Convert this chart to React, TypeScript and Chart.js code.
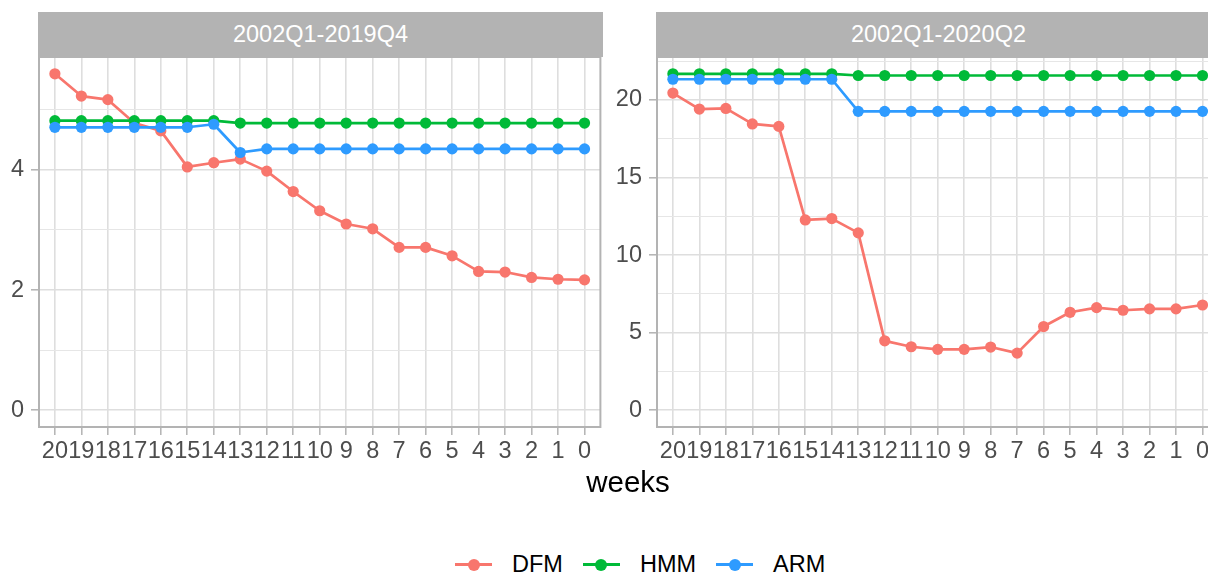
import React, { useEffect, useRef } from "react";
import { Chart, registerables } from "chart.js";

Chart.register(...registerables);

// ---------------- data ----------------
const weeks = [20, 19, 18, 17, 16, 15, 14, 13, 12, 11, 10, 9, 8, 7, 6, 5, 4, 3, 2, 1, 0];

const seriesNames = ["DFM", "HMM", "ARM"];
const seriesColors = ["#F8766D", "#00BA38", "#2E9BFF"];

const panelTitles = ["2002Q1-2019Q4", "2002Q1-2020Q2"];
const xAxisTitle = "weeks";

// Panel 1: 2002Q1-2019Q4
const dfm2019 = [5.6, 5.23, 5.17, 4.78, 4.65, 4.05, 4.12, 4.18, 3.98, 3.64, 3.32, 3.1, 3.02, 2.71, 2.71, 2.57, 2.31, 2.3, 2.21, 2.18, 2.17];
const hmm2019 = [4.82, 4.82, 4.82, 4.82, 4.82, 4.82, 4.82, 4.78, 4.78, 4.78, 4.78, 4.78, 4.78, 4.78, 4.78, 4.78, 4.78, 4.78, 4.78, 4.78, 4.78];
const arm2019 = [4.71, 4.71, 4.71, 4.71, 4.71, 4.71, 4.76, 4.29, 4.35, 4.35, 4.35, 4.35, 4.35, 4.35, 4.35, 4.35, 4.35, 4.35, 4.35, 4.35, 4.35];

// Panel 2: 2002Q1-2020Q2
const dfm2020 = [20.44, 19.41, 19.45, 18.45, 18.29, 12.26, 12.35, 11.43, 4.47, 4.09, 3.92, 3.92, 4.07, 3.68, 5.39, 6.31, 6.61, 6.44, 6.53, 6.53, 6.78];
const hmm2020 = [21.68, 21.68, 21.68, 21.68, 21.68, 21.68, 21.68, 21.57, 21.57, 21.57, 21.57, 21.57, 21.57, 21.57, 21.57, 21.57, 21.57, 21.57, 21.57, 21.57, 21.57];
const arm2020 = [21.33, 21.33, 21.33, 21.33, 21.33, 21.33, 21.33, 19.26, 19.26, 19.26, 19.26, 19.26, 19.26, 19.26, 19.26, 19.26, 19.26, 19.26, 19.26, 19.26, 19.26];

// y-axis break steps (major labelled, minor grid only)
const yMajor2019 = 2;
const yMinor2019 = 1;
const yMajor2020 = 5;
const yMinor2020 = 2.5;

// ---------------- helpers ----------------
const FONT = "'Liberation Sans', Arial, Helvetica, sans-serif";
const isMultiple = (v: number, step: number) => Math.abs(v / step - Math.round(v / step)) < 1e-6;

const regularTicks = (s: any, step: number) => {
  const out: { value: number }[] = [];
  const start = Math.ceil(s.min / step - 1e-9);
  const end = Math.floor(s.max / step + 1e-9);
  for (let i = start; i <= end; i++) out.push({ value: Math.round(i * step * 1000) / 1000 });
  if (s.options.reverse) out.reverse();
  s.ticks = out;
};

type PanelProps = {
  series: number[][];
  major: number;
  minor: number;
  left: number;
  top: number;
  width: number;
  height: number;
  yAxisWidth: number;
  padTop: number;
  padRight: number;
  xAxisHeight: number;
};

const panelBorder = {
  id: "panelBorder",
  beforeDatasetsDraw(chart: any) {
    const { ctx, chartArea } = chart;
    ctx.save();
    ctx.strokeStyle = "#B3B3B3";
    ctx.lineWidth = 2;
    ctx.strokeRect(chartArea.left, chartArea.top, chartArea.right - chartArea.left, chartArea.bottom - chartArea.top);
    ctx.restore();
  },
};

function Panel(props: PanelProps) {
  const ref = useRef<HTMLCanvasElement>(null);
  useEffect(() => {
    const { series, major, minor } = props;
    const all = series.flat().concat([0]);
    const hi = Math.max(...all);
    const lo = Math.min(...all);
    const span = hi - lo;
    const yMin = lo - 0.05 * span;
    const yMax = hi + 0.05 * span;
    const xMin = Math.min(...weeks) - 0.6;
    const xMax = Math.max(...weeks) + 0.6;

    const toPts = (vals: number[]) => weeks.map((w, i) => ({ x: w, y: vals[i] }));
    const lineSets = series.map((vals, k) => ({
      label: seriesNames[k] + " line",
      data: toPts(vals),
      borderColor: seriesColors[k],
      backgroundColor: seriesColors[k],
      borderWidth: 2.7,
      borderJoinStyle: "round",
      pointRadius: 0,
      pointHoverRadius: 0,
      fill: false,
      tension: 0,
    }));
    const pointSets = series.map((vals, k) => ({
      label: seriesNames[k],
      data: toPts(vals),
      showLine: false,
      borderColor: seriesColors[k],
      backgroundColor: seriesColors[k],
      pointBackgroundColor: seriesColors[k],
      pointBorderWidth: 0,
      pointRadius: 5.6,
      pointHoverRadius: 5.6,
    }));
    // first dataset is drawn on top in Chart.js
    const datasets = [...pointSets.slice().reverse(), ...lineSets.slice().reverse()];

    const zeroPad = (s: any) => {
      s.paddingLeft = 0;
      s.paddingRight = 0;
      s.paddingTop = 0;
      s.paddingBottom = 0;
    };

    const chart = new Chart(ref.current as HTMLCanvasElement, {
      type: "line",
      data: { datasets: datasets as any },
      plugins: [panelBorder],
      options: {
        animation: false,
        responsive: false,
        events: [],
        layout: { padding: { top: props.padTop, right: props.padRight, left: 0, bottom: 0 } },
        plugins: { legend: { display: false }, tooltip: { enabled: false } },
        scales: {
          x: {
            type: "linear",
            reverse: true,
            min: xMin,
            max: xMax,
            afterBuildTicks: (s: any) => regularTicks(s, 1),
            afterFit: (s: any) => {
              s.height = props.xAxisHeight;
              zeroPad(s);
            },
            ticks: {
              stepSize: 1,
              autoSkip: false,
              maxRotation: 0,
              minRotation: 0,
              color: "#4D4D4D",
              padding: 2,
              font: { family: FONT, size: 23.5 },
              callback: (v: any) => String(v),
            },
            grid: {
              color: "#DEDEDE",
              lineWidth: 1.6,
              tickColor: "#B3B3B3",
              tickLength: 8,
              tickWidth: 1.5,
              drawTicks: true,
            },
            border: { display: false },
          },
          y: {
            type: "linear",
            min: yMin,
            max: yMax,
            afterBuildTicks: (s: any) => regularTicks(s, minor),
            afterFit: (s: any) => {
              s.width = props.yAxisWidth;
              zeroPad(s);
            },
            ticks: {
              stepSize: minor,
              autoSkip: false,
              color: "#4D4D4D",
              padding: 7,
              font: { family: FONT, size: 23.5 },
              callback: (v: any) => (isMultiple(v, major) ? String(Math.round(v * 100) / 100) : ""),
            },
            grid: {
              color: (c: any) => (c.tick && isMultiple(c.tick.value, major) ? "#DEDEDE" : "#E6E6E6"),
              lineWidth: (c: any) => (c.tick && isMultiple(c.tick.value, major) ? 1.6 : 1.1),
              tickColor: (c: any) => (c.tick && isMultiple(c.tick.value, major) ? "#B3B3B3" : "rgba(0,0,0,0)"),
              tickLength: 8,
              tickWidth: 1.5,
              drawTicks: true,
            },
            border: { display: false },
          },
        },
      } as any,
    });
    return () => chart.destroy();
  }, []);

  return (
    <canvas
      ref={ref}
      width={props.width}
      height={props.height}
      style={{ position: "absolute", left: props.left, top: props.top, width: props.width, height: props.height }}
    />
  );
}

function Strip({ left, text }: { left: number; text: string }) {
  return (
    <div
      style={{
        position: "absolute",
        left,
        top: 12,
        width: 565,
        height: 45,
        background: "#B3B3B3",
        color: "#FFFFFF",
        fontFamily: FONT,
        fontSize: 23.5,
        lineHeight: 1,
        display: "flex",
        alignItems: "center",
        justifyContent: "center",
      }}
    >
      {text}
    </div>
  );
}

function LegendKey({ color }: { color: string }) {
  return (
    <div style={{ position: "relative", width: 37, height: 14, flex: "none" }}>
      <div style={{ position: "absolute", left: 0, top: 5.6, width: 37, height: 2.8, background: color }} />
      <div
        style={{
          position: "absolute",
          left: 12.5,
          top: 1,
          width: 12,
          height: 12,
          borderRadius: "50%",
          background: color,
        }}
      />
    </div>
  );
}

export default function App() {
  return (
    <div
      style={{
        position: "absolute",
        left: 0,
        top: 0,
        width: 1208,
        height: 574,
        overflow: "hidden",
        background: "#FFFFFF",
        fontFamily: FONT,
      }}
    >
      <Strip left={38} text={panelTitles[0]} />
      <Strip left={656} text={panelTitles[1]} />
      <Panel
        series={[dfm2019, hmm2019, arm2019]}
        major={yMajor2019}
        minor={yMinor2019}
        left={0}
        top={48}
        width={606}
        height={419}
        yAxisWidth={39}
        padTop={9}
        padRight={4}
        xAxisHeight={40}
      />
      <Panel
        series={[dfm2020, hmm2020, arm2020]}
        major={yMajor2020}
        minor={yMinor2020}
        left={606}
        top={48}
        width={618}
        height={419}
        yAxisWidth={51}
        padTop={9}
        padRight={4}
        xAxisHeight={40}
      />
      <div
        style={{
          position: "absolute",
          left: 528,
          top: 466.7,
          width: 200,
          textAlign: "center",
          fontSize: 29.5,
          lineHeight: 1,
          color: "#000000",
        }}
      >
        {xAxisTitle}
      </div>
      <div
        style={{
          position: "absolute",
          left: 455,
          top: 553,
          height: 23.5,
          display: "flex",
          alignItems: "center",
          fontSize: 23.5,
          lineHeight: 1,
          color: "#000000",
          whiteSpace: "nowrap",
        }}
      >
        {seriesNames.map((name, k) => (
          <React.Fragment key={name}>
            <LegendKey color={seriesColors[k]} />
            <span style={{ marginLeft: 20, marginRight: k < seriesNames.length - 1 ? 20 : 0 }}>{name}</span>
          </React.Fragment>
        ))}
      </div>
    </div>
  );
}
